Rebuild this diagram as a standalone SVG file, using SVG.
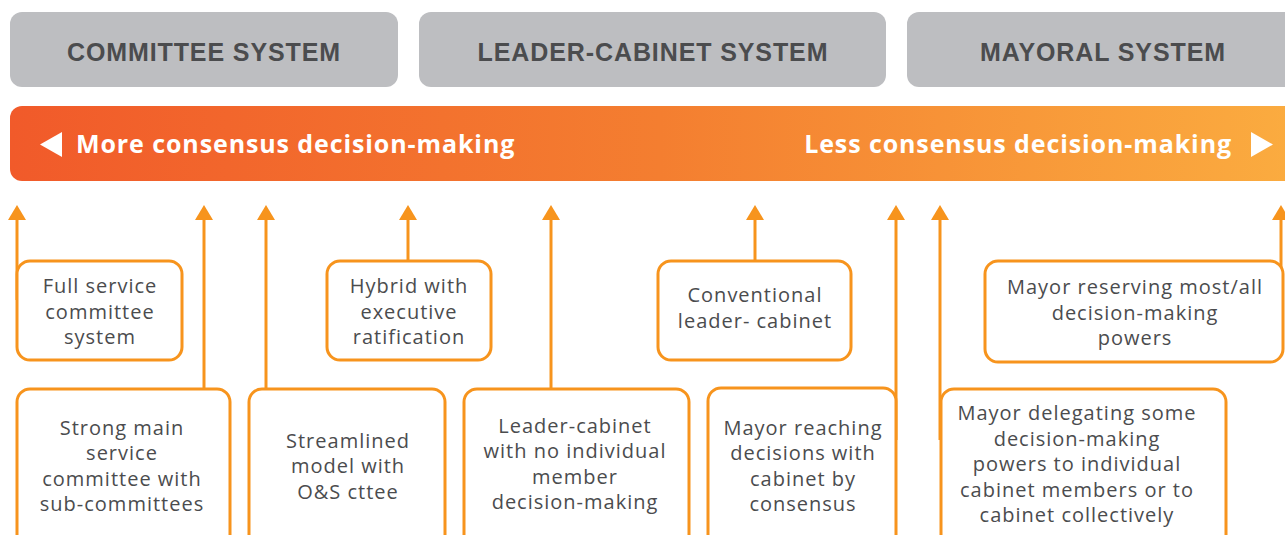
<svg xmlns="http://www.w3.org/2000/svg" width="1285" height="535" viewBox="0 0 1285 535">
<style>
.hdr{fill:#bdbec1}
.ht{font-family:"Liberation Sans",Arial,sans-serif;font-weight:bold;font-size:25px;letter-spacing:0.9px;fill:#4b4c4e;text-anchor:middle}
.bt{font-family:"Open Sans",sans-serif;font-weight:bold;font-size:25px;letter-spacing:0.9px;fill:#ffffff}
.box{fill:#ffffff;stroke:#f7941d;stroke-width:3}
.t{font-family:"Open Sans",sans-serif;font-size:20px;letter-spacing:1px;fill:#4b4c4e;text-anchor:middle}
.con{stroke:#f7941d;stroke-width:3;fill:none}
</style>
<defs>
<linearGradient id="g" x1="0" y1="0" x2="1" y2="0">
<stop offset="0" stop-color="#f15a2a"/>
<stop offset="0.5" stop-color="#f47e30"/>
<stop offset="1" stop-color="#fbad40"/>
</linearGradient>
<marker id="ah" markerUnits="userSpaceOnUse" markerWidth="20" markerHeight="16" refX="9" refY="15" orient="0" viewBox="0 0 20 16">
<polygon points="9,0 18,15 0,15" fill="#f7941d"/>
</marker>
</defs>
<g id="hdr-committee"><rect class="hdr" x="10" y="12" width="388" height="75" rx="12"/><text class="ht" x="204" y="61">COMMITTEE SYSTEM</text></g>
<g id="hdr-leader"><rect class="hdr" x="419" y="12" width="467" height="75" rx="12"/><text class="ht" x="653" y="61">LEADER-CABINET SYSTEM</text></g>
<g id="hdr-mayoral"><rect class="hdr" x="907" y="12" width="400" height="75" rx="12"/><text class="ht" x="1103" y="61">MAYORAL SYSTEM</text></g>
<g id="bar"><rect x="10" y="106" width="1300" height="75" rx="12" fill="url(#g)"/>
<polygon points="40,144.5 62,132 62,157" fill="#ffffff"/>
<polygon points="1273,144.5 1251,132 1251,157" fill="#ffffff"/>
<text class="bt" x="76" y="153">More consensus decision-making</text>
<text class="bt" x="1232" y="153" text-anchor="end">Less consensus decision-making</text></g>
<g id="connectors">
<line class="con" x1="17" y1="300" x2="17" y2="220" marker-end="url(#ah)"/>
<line class="con" x1="204" y1="389" x2="204" y2="220" marker-end="url(#ah)"/>
<line class="con" x1="266" y1="389" x2="266" y2="220" marker-end="url(#ah)"/>
<line class="con" x1="408" y1="261" x2="408" y2="220" marker-end="url(#ah)"/>
<line class="con" x1="551" y1="389" x2="551" y2="220" marker-end="url(#ah)"/>
<line class="con" x1="755" y1="261" x2="755" y2="220" marker-end="url(#ah)"/>
<line class="con" x1="896" y1="440" x2="896" y2="220" marker-end="url(#ah)"/>
<line class="con" x1="940" y1="440" x2="940" y2="220" marker-end="url(#ah)"/>
<line class="con" x1="1281" y1="300" x2="1281" y2="220" marker-end="url(#ah)"/>
</g>
<g id="n-full"><rect class="box" x="17" y="261" width="165" height="99" rx="13"/>
<text class="t"><tspan x="100" y="293">Full service</tspan><tspan x="100" y="319">committee</tspan><tspan x="100" y="344">system</tspan></text></g>
<g id="n-hybrid"><rect class="box" x="327" y="261" width="164" height="99" rx="13"/>
<text class="t"><tspan x="409" y="293">Hybrid with</tspan><tspan x="409" y="319">executive</tspan><tspan x="409" y="344">ratification</tspan></text></g>
<g id="n-conventional"><rect class="box" x="658" y="261" width="193" height="99" rx="13"/>
<text class="t"><tspan x="755" y="302">Conventional</tspan><tspan x="755" y="328">leader- cabinet</tspan></text></g>
<g id="n-reserving"><rect class="box" x="985" y="261" width="298" height="101" rx="13"/>
<text class="t"><tspan x="1135" y="294">Mayor reserving most/all</tspan><tspan x="1135" y="320">decision-making</tspan><tspan x="1135" y="345">powers</tspan></text></g>
<g id="n-strong"><rect class="box" x="17" y="389" width="213" height="170" rx="13"/>
<text class="t"><tspan x="122" y="435">Strong main</tspan><tspan x="122" y="460">service</tspan><tspan x="122" y="486">committee with</tspan><tspan x="122" y="511">sub-committees</tspan></text></g>
<g id="n-streamlined"><rect class="box" x="249" y="389" width="196" height="170" rx="13"/>
<text class="t"><tspan x="348" y="448">Streamlined</tspan><tspan x="348" y="473">model with</tspan><tspan x="348" y="499">O&amp;S cttee</tspan></text></g>
<g id="n-leadercab"><rect class="box" x="464" y="389" width="225" height="170" rx="13"/>
<text class="t"><tspan x="575" y="433">Leader-cabinet</tspan><tspan x="575" y="458">with no individual</tspan><tspan x="575" y="484">member</tspan><tspan x="575" y="509">decision-making</tspan></text></g>
<g id="n-reaching"><rect class="box" x="708" y="388" width="188" height="171" rx="13"/>
<text class="t"><tspan x="803" y="435">Mayor reaching</tspan><tspan x="803" y="460">decisions with</tspan><tspan x="803" y="486">cabinet by</tspan><tspan x="803" y="511">consensus</tspan></text></g>
<g id="n-delegating"><rect class="box" x="941" y="389" width="285" height="170" rx="13"/>
<text class="t"><tspan x="1077" y="420">Mayor delegating some</tspan><tspan x="1077" y="446">decision-making</tspan><tspan x="1077" y="471">powers to individual</tspan><tspan x="1077" y="497">cabinet members or to</tspan><tspan x="1077" y="522">cabinet collectively</tspan></text></g>
</svg>
